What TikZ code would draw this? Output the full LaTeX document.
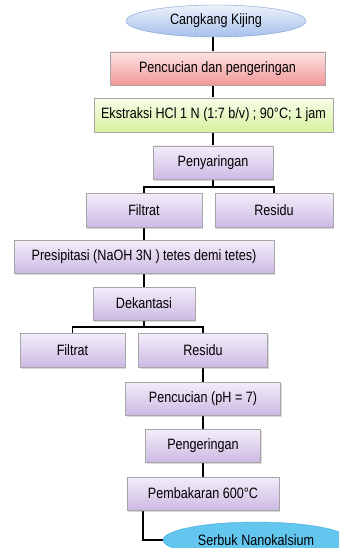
\documentclass[tikz,border=0pt]{standalone}
\usepackage{fontspec}
\setmainfont{Liberation Sans}[FakeStretch=0.84]
\usetikzlibrary{shapes.geometric,shadows,backgrounds}
\definecolor{biruA}{HTML}{EDF2FB}
\definecolor{biruB}{HTML}{A6C0EC}
\definecolor{biruG}{HTML}{7E9BD0}
\definecolor{merahA}{HTML}{FCE4E4}
\definecolor{merahB}{HTML}{F29898}
\definecolor{hijauA}{HTML}{F8FDEA}
\definecolor{hijauB}{HTML}{D6F19E}
\definecolor{unguA}{HTML}{F3EEF9}
\definecolor{unguB}{HTML}{CDBAE4}
\definecolor{cyan1}{HTML}{62C6EF}
\definecolor{cyan2}{HTML}{45A9DA}
\begin{document}
\begin{tikzpicture}[x=1pt, y=-1pt, line join=round, font=\fontsize{15}{17}\selectfont,
 kotak/.style={rectangle, draw=black!35, minimum height=33pt, inner sep=0pt,
   drop shadow={opacity=.3, shadow xshift=1pt, shadow yshift=-1.5pt}},
 ungu/.style={kotak, top color=unguA, bottom color=unguB},
 garis/.style={line width=1.8pt, black}]
\useasboundingbox (0,0) rectangle (339,548);
\clip (0,0) rectangle (339,548);
% bahan awal
\node[ellipse, draw=biruG, top color=biruA, bottom color=biruB, minimum width=180pt,
  minimum height=32pt, inner sep=0pt] (cangkang) at (216,21) {Cangkang Kijing};
\node[kotak, top color=merahA, bottom color=merahB, minimum width=215pt] (cuci) at (217.5,68.5) {Pencucian dan pengeringan};
\node[kotak, top color=hijauA, bottom color=hijauB, minimum width=239pt, minimum height=34pt] (ekstraksi) at (213.5,115) {Ekstraksi HCl 1 N (1:7 b/v) ; 90°C; 1 jam};
\node[ungu, minimum width=120pt] (saring) at (213,162.5) {Penyaringan};
% cabang pertama
\node[ungu, minimum width=116pt, minimum height=34pt] (filtratA) at (144,210) {Filtrat};
\node[ungu, minimum width=118pt, minimum height=34pt] (residuA) at (274,210) {Residu};
\node[ungu, minimum width=260pt] (presipitasi) at (144,256.5) {Presipitasi (NaOH 3N ) tetes demi tetes)};
\node[ungu, minimum width=102pt] (dekantasi) at (144,303.5) {Dekantasi};
% cabang kedua
\node[ungu, minimum width=105pt, minimum height=34pt] (filtratB) at (72.5,350) {Filtrat};
\node[ungu, minimum width=129pt, minimum height=34pt] (residuB) at (203,350) {Residu};
\node[ungu, minimum width=155pt] (cuciB) at (203,398.5) {Pencucian (pH = 7)};
\node[ungu, minimum width=115pt] (kering) at (203,445.5) {Pengeringan};
\node[ungu, minimum width=152pt] (bakar) at (203,493.5) {Pembakaran 600°C};
\node[ellipse, draw=cyan2, fill=cyan1, minimum width=186pt, minimum height=36pt,
  inner sep=0pt] (serbuk) at (256,540) {Serbuk Nanokalsium};
% garis penghubung
\coordinate (cabA) at (213,187);
\coordinate (cabB) at (144,327);
\coordinate (belok) at (143,540);
\begin{pgfonlayer}{background}
\draw[garis] (cangkang.center -| saring) -- (cuci.center -| saring) -- (saring);
\draw[garis] (saring) -- (cabA);
\draw[garis] (filtratA) |- (cabA) -| (residuA);
\draw[garis] (filtratA) -- (dekantasi) -- (cabB);
\draw[garis] (filtratB) |- (cabB) -| (residuB);
\draw[garis] (residuB) -- (bakar);
\draw[garis] (bakar.center -| belok) -- (belok) -- (serbuk);
\end{pgfonlayer}
\end{tikzpicture}
\end{document}
